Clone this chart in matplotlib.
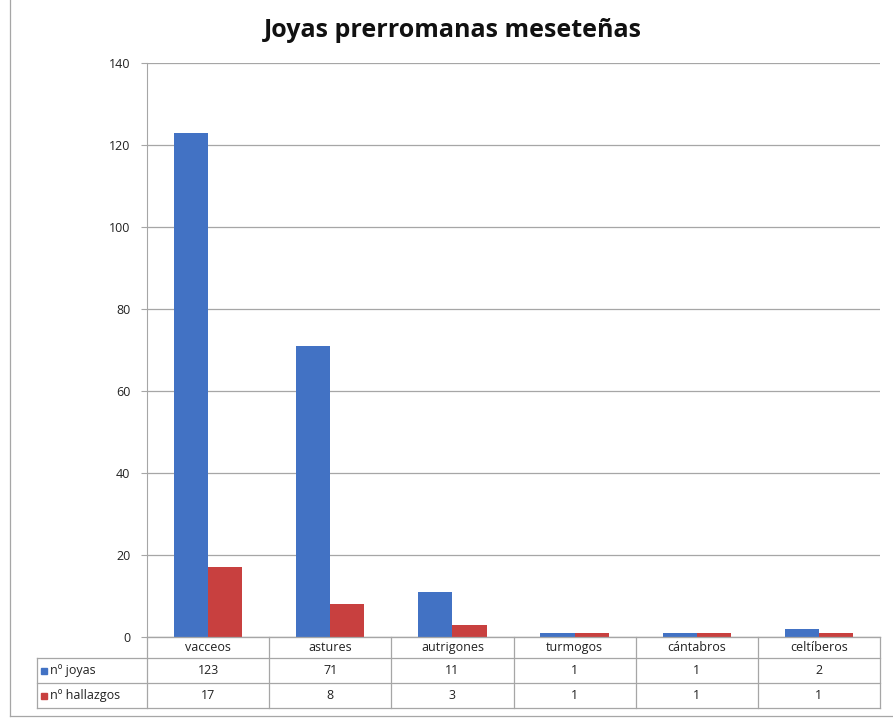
import numpy as np
import matplotlib.pyplot as plt
from matplotlib.lines import Line2D
from matplotlib.patches import Rectangle

# ======================
# Data
# ======================

categories = ["vacceos", "astures", "autrigones", "turmogos", "cántabros", "celtíberos"]
joyas = [123, 71, 11, 1, 1, 2]
hallazgos = [17, 8, 3, 1, 1, 1]
series_names = ["nº joyas", "nº hallazgos"]
y_ticks = [0, 20, 40, 60, 80, 100, 120, 140]

BLUE = "#4272C4"
RED = "#C8403F"
GRID = "#A6A6A6"

plt.rcParams["font.family"] = ["Open Sans", "DejaVu Sans"]

# ======================
# Figure
# ======================

fig = plt.figure(figsize=(8.93, 7.19), dpi=100)
ax = fig.add_axes([0.1646, 0.114, 0.8209, 0.7984])

x = np.arange(len(categories))
w = 0.28
ax.bar(x - w / 2, joyas, w, color=BLUE, zorder=3)
ax.bar(x + w / 2, hallazgos, w, color=RED, zorder=3)

ax.set_xlim(-0.5, len(categories) - 0.5)
ax.set_ylim(0, 140)
ax.set_yticks(y_ticks)
ax.set_yticklabels([str(t) for t in y_ticks], fontsize=9, color="#222222")
ax.tick_params(axis="y", length=4, color=GRID, pad=8)
ax.set_xticks([])
ax.yaxis.grid(True, color=GRID, linewidth=0.9, zorder=0)

for s in ["top", "right"]:
    ax.spines[s].set_visible(False)
ax.spines["left"].set_color(GRID)
ax.spines["bottom"].set_color(GRID)

fig.text(0.507, 0.957, "Joyas prerromanas meseteñas", ha="center", va="center",
         fontsize=18, fontweight="bold", color="#111111")

# ======================
# Data table under the axis
# ======================

H = 719.0
W = 893.0
row_edges = [637, 658, 683, 708]       # pixel rows, top to bottom
col_left = 147
col_right = 880
label_left = 37
cw = (col_right - col_left) / len(categories)

def fy(py):
    return 1 - py / H

def fx(px):
    return px / W

line_kw = dict(color=GRID, linewidth=0.9, transform=fig.transFigure)

# horizontal lines
fig.add_artist(Line2D([fx(col_left), fx(col_right)], [fy(row_edges[0])] * 2, **line_kw))
for r in row_edges[1:]:
    fig.add_artist(Line2D([fx(label_left), fx(col_right)], [fy(r)] * 2, **line_kw))

# vertical lines
for i in range(len(categories) + 1):
    px = col_left + i * cw
    fig.add_artist(Line2D([fx(px)] * 2, [fy(row_edges[0]), fy(row_edges[-1])], **line_kw))
fig.add_artist(Line2D([fx(label_left)] * 2, [fy(row_edges[1]), fy(row_edges[-1])], **line_kw))

# texts
for i, cat in enumerate(categories):
    cx = fx(col_left + (i + 0.5) * cw)
    fig.text(cx, fy((row_edges[0] + row_edges[1]) / 2), cat, ha="center", va="center",
             fontsize=9, color="#222222")
    fig.text(cx, fy((row_edges[1] + row_edges[2]) / 2), str(joyas[i]), ha="center",
             va="center", fontsize=9, color="#222222")
    fig.text(cx, fy((row_edges[2] + row_edges[3]) / 2), str(hallazgos[i]), ha="center",
             va="center", fontsize=9, color="#222222")

for k, (name, col) in enumerate(zip(series_names, [BLUE, RED])):
    cy = (row_edges[k + 1] + row_edges[k + 2]) / 2
    fig.add_artist(Rectangle((fx(label_left + 4), fy(cy + 3)), 6 / W, 6 / H,
                             color=col, transform=fig.transFigure))
    fig.text(fx(label_left + 13), fy(cy), name, ha="left", va="center",
             fontsize=9, color="#222222")

# outer frame
fig.add_artist(Line2D([fx(10), fx(10)], [fy(0), fy(716)], **line_kw))
fig.add_artist(Line2D([fx(10), fx(893)], [fy(716), fy(716)], **line_kw))

fig.savefig("out.png", dpi=100)
